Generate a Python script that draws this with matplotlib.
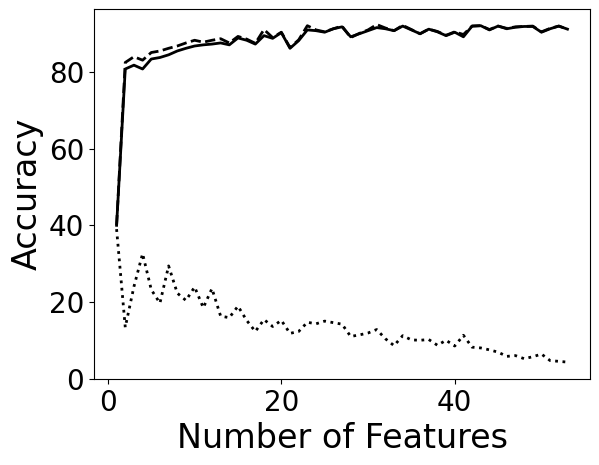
import matplotlib
matplotlib.use("Agg")
import matplotlib.pyplot as plt
import numpy as np

# number of selected features
n_features = np.arange(1, 54)

# accuracy curves
acc_solid = [
    40.0, 80.8, 81.8, 80.8, 83.4, 83.8, 84.5, 85.5, 86.2, 86.8,
    87.1, 87.3, 87.6, 87.1, 88.9, 88.3, 87.3, 89.5, 88.8, 90.3,
    86.2, 88.2, 91.0, 90.8, 90.4, 91.3, 91.8, 89.2, 90.0, 90.8,
    91.6, 91.3, 90.8, 92.0, 91.0, 90.0, 91.2, 90.5, 89.5, 90.4,
    89.2, 92.0, 92.1, 91.0, 92.0, 91.3, 91.7, 91.9, 91.9, 90.4,
    91.3, 92.0, 91.2,
]
acc_dashed = [
    40.0, 82.5, 84.0, 83.1, 85.1, 85.5, 86.2, 86.8, 87.6, 88.3,
    87.8, 88.3, 88.7, 87.6, 89.3, 88.6, 87.5, 91.1, 89.0, 90.4,
    86.4, 88.4, 92.1, 91.0, 90.5, 91.3, 92.0, 89.0, 90.1, 91.0,
    92.4, 91.5, 90.8, 92.2, 91.1, 90.0, 91.2, 90.6, 89.6, 90.5,
    89.8, 92.0, 92.1, 91.1, 92.0, 91.4, 91.8, 91.9, 92.0, 90.5,
    91.4, 92.0, 91.2,
]
acc_dotted = [
    39.0, 13.4, 24.0, 32.6, 23.2, 19.7, 29.4, 22.3, 20.4, 23.9,
    18.5, 23.5, 16.3, 15.9, 18.9, 15.2, 12.3, 15.4, 13.6, 15.2,
    11.8, 12.3, 14.7, 14.3, 15.0, 14.6, 14.2, 11.0, 11.4, 11.9,
    12.8, 10.4, 8.6, 11.2, 10.1, 10.0, 10.2, 8.7, 10.0, 8.5,
    11.3, 8.2, 8.0, 7.5, 6.9, 5.8, 6.0, 5.2, 5.7, 6.4,
    4.7, 4.5, 4.3,
]

fig = plt.figure(figsize=(5.99, 4.65), dpi=100)
ax = fig.add_axes([0.157, 0.185, 0.828, 0.796])

ax.plot(n_features, acc_solid, color="black", linestyle="-", linewidth=2)
ax.plot(n_features, acc_dashed, color="black", linestyle="--", linewidth=2)
ax.plot(n_features, acc_dotted, color="black", linestyle=":", linewidth=2)

ax.set_xlim(-1.6, 55.6)
ax.set_ylim(-0.1, 96.5)
ax.set_xticks([0, 20, 40])
ax.set_yticks([0, 20, 40, 60, 80])
ax.tick_params(labelsize=20)
ax.set_xlabel("Number of Features", fontsize=24)
ax.set_ylabel("Accuracy", fontsize=24)

plt.savefig("out.png", dpi=100)
plt.close()
